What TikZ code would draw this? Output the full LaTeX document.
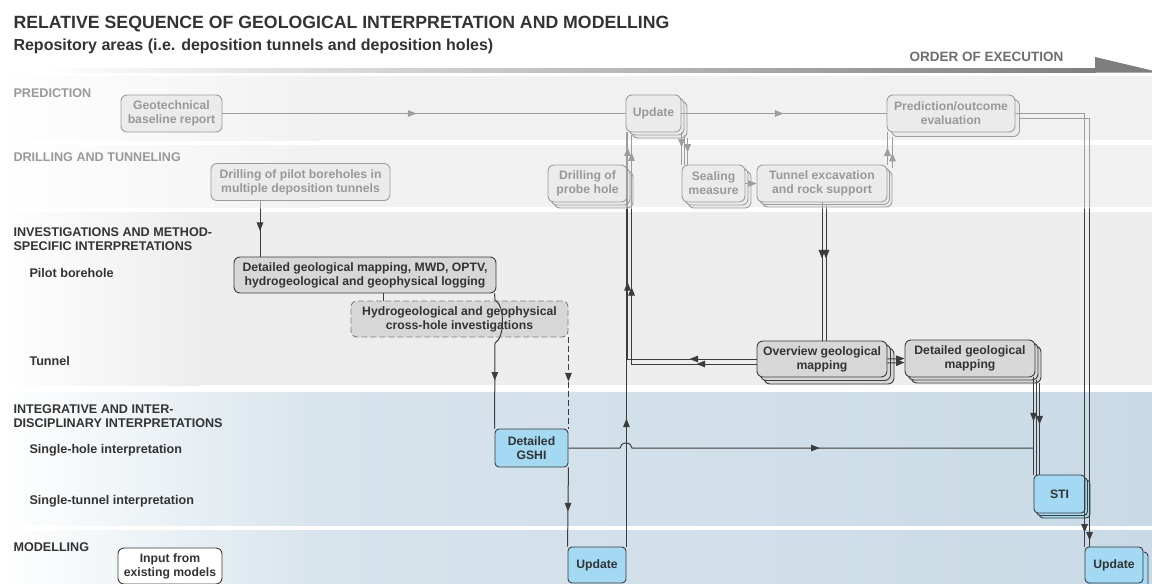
\documentclass[tikz,border=0pt]{standalone}
\usepackage{fontspec}
\setmainfont{Liberation Sans}
\usepackage{tikz}
\usetikzlibrary{arrows.meta,shadows,decorations.markings}

\definecolor{txtdark}{HTML}{333333}
\definecolor{linedark}{HTML}{3C3C3C}
\definecolor{boxgray}{HTML}{D7D7D7}
\definecolor{boxblue}{HTML}{A3D9F3}
\definecolor{bandtop}{HTML}{E4E4E4}
\definecolor{bandmid}{HTML}{EDEDED}
\definecolor{bandlow}{HTML}{D8E4EC}
\definecolor{bandlowend}{HTML}{C9DAE6}
\definecolor{barend}{HTML}{7E7E7E}
\definecolor{ordergray}{HTML}{6E6E6E}

\begin{document}
\begin{tikzpicture}[x=1pt,y=-1pt,
  procbox/.style={draw=linedark, fill=boxgray, text=txtdark, rounded corners=6pt,
    line width=0.9pt, align=center, inner sep=1pt,
    font=\fontsize{12.2}{14}\selectfont\bfseries},
  bluebox/.style={procbox, fill=boxblue, rounded corners=4pt},
  crossbox/.style={procbox, draw=gray, dash pattern=on 6pt off 3pt},
  stack/.style={double copy shadow={shadow xshift=#1, shadow yshift=-#1}},
  onecopy/.style={copy shadow={shadow xshift=#1, shadow yshift=-#1}},
  lanehead/.style={anchor=base west, text=txtdark, align=left,
    font=\fontsize{12.6}{14}\selectfont\bfseries},
  link/.style={draw=linedark, line width=1pt},
  arrowat/.style={postaction={decorate, decoration={markings,
    mark=at position #1 with {\arrow{Triangle[length=8.5pt,width=6.5pt]}}}}},
  tip/.style={-{Triangle[length=8.5pt,width=6.5pt]}}
]
\useasboundingbox (0,0) rectangle (1152,584);
\fill[white] (0,0) rectangle (1152,584);

\shade[left color=white, right color=bandtop] (0,76) rectangle (320,140);
\fill[bandtop] (320,76) rectangle (1152,140);
\shade[left color=white, right color=bandtop] (0,145) rectangle (320,207);
\fill[bandtop] (320,145) rectangle (1152,207);
\shade[left color=white, right color=bandmid] (0,212) rectangle (200,385);
\fill[bandmid] (200,212) rectangle (1152,385);
\shade[left color=white, right color=bandlow] (0,392) rectangle (320,525);
\shade[left color=bandlow, right color=bandlowend] (320,392) rectangle (1152,525);
\shade[left color=white, right color=bandlow] (0,530) rectangle (320,584);
\shade[left color=bandlow, right color=bandlowend] (320,530) rectangle (1152,584);

\shade[left color=white, right color=barend] (40,68) rectangle (1096,72.5);
\fill[barend] (1095,57) -- (1152,70.5) -- (1152,72.5) -- (1095,72.5) -- cycle;

\node[anchor=base west, text=txtdark, font=\fontsize{17.7}{20}\selectfont\bfseries] (title) at (10,28.5) {RELATIVE SEQUENCE OF GEOLOGICAL INTERPRETATION AND MODELLING};
\node[anchor=base west, text=txtdark, font=\fontsize{16}{19}\selectfont\bfseries] (subtitle) at (10,50.5) {Repository areas (i.e. deposition tunnels and deposition holes)};
\node[anchor=base, text=ordergray, font=\fontsize{13.5}{16}\selectfont\bfseries] (order) at (986.5,61.7) {ORDER OF EXECUTION};

\node[lanehead] (prediction) at (10,97.5) {PREDICTION};
\node[lanehead] (drilling) at (10,161.5) {DRILLING AND TUNNELING};
\node[lanehead] (investig) at (10,250.5) {INVESTIGATIONS AND METHOD-\\SPECIFIC INTERPRETATIONS};
\node[lanehead] (pilot) at (26,277.5) {Pilot borehole};
\node[lanehead] (tunnel) at (26,365.5) {Tunnel};
\node[lanehead] (integr) at (10,427) {INTEGRATIVE AND INTER-\\DISCIPLINARY INTERPRETATIONS};
\node[lanehead] (singlehole) at (26,453.5) {Single-hole interpretation};
\node[lanehead] (singletunnel) at (26,504.5) {Single-tunnel interpretation};
\node[lanehead] (modelling) at (10,551) {MODELLING};

\node[procbox, minimum width=101pt, minimum height=37pt] (gbr) at (171.5,113.5) {Geotechnical\\baseline report};
\node[procbox, stack=3pt, minimum width=55pt, minimum height=37pt] (updp) at (653.5,113.5) {Update};
\node[procbox, onecopy=4.5pt, minimum width=128pt, minimum height=37pt] (poe) at (951,113.5) {Prediction/outcome\\evaluation};
\node[procbox, minimum width=179pt, minimum height=37pt] (dpb) at (300.5,182) {Drilling of pilot boreholes in\\multiple deposition tunnels};
\node[procbox, stack=3pt, minimum width=79pt, minimum height=37pt] (dph) at (587.5,183.5) {Drilling of\\probe hole};
\node[procbox, stack=3pt, minimum width=63pt, minimum height=37pt] (sea) at (713.5,183.5) {Sealing\\measure};
\node[procbox, stack=2.5pt, minimum width=130pt, minimum height=37pt] (tex) at (822,183.5) {Tunnel excavation\\and rock support};
\node[procbox, minimum width=262pt, minimum height=36pt] (dgl) at (365,275) {Detailed geological mapping, MWD, OPTV,\\hydrogeological and geophysical logging};
\node[crossbox, minimum width=217pt, minimum height=36pt] (hyd) at (459.5,319) {Hydrogeological and geophysical\\cross-hole investigations};
\node[procbox, stack=3.5pt, minimum width=130pt, minimum height=36pt] (ovm) at (822,359) {Overview geological\\mapping};
\node[procbox, stack=3pt, minimum width=130pt, minimum height=37pt] (dgm) at (970,358.5) {Detailed geological\\mapping};
\node[bluebox, minimum width=73pt, minimum height=38pt] (gshi) at (531.5,448) {Detailed\\GSHI};
\node[bluebox, stack=2.5pt, minimum width=51pt, minimum height=38pt] (sti) at (1059.5,494) {STI};
\node[bluebox, minimum width=58pt, minimum height=36pt] (updm) at (597,565) {Update};
\node[bluebox, onecopy=5pt, minimum width=58pt, minimum height=36pt] (updr) at (1114,565) {Update};
\node[procbox, fill=white, minimum width=104pt, minimum height=36pt] (inp) at (170,566) {Input from\\existing models};

\draw[link, arrowat=194pt] (gbr.east) -- (updp.west);
\draw[link, arrowat=102pt] (updp.east) -- (poe.west);
\draw[link, arrowat=-14pt] (poe.east) -| (updr.north west);
\draw[link, arrowat=-6pt] ([xshift=4.5pt,yshift=-5pt]poe.east) -| ([xshift=5pt]updr.north west);
\draw[link, arrowat=-17pt] (sea.north west |- updp.south) -- (sea.north west);
\draw[link] ([xshift=3pt,yshift=-3pt]sea.north west |- updp.south) -- ([xshift=3pt]sea.north west);
\draw[link, arrowat=-12pt] ([xshift=6pt,yshift=-6pt]sea.north west |- updp.south) -- ([xshift=6pt]sea.north west);
\draw[link, tip] (sea.east) -- (tex.west);
\draw[link, arrowat=-15pt] (tex.north east) -- (tex.north east |- poe.south);
\draw[link, arrowat=-16pt] ([xshift=5pt,yshift=-3pt]tex.north east) -- ([xshift=5pt,yshift=-4.5pt]tex.north east |- poe.south);
\draw[link, arrowat=56pt] (tex.south) -- (ovm.north);
\draw[link, arrowat=53pt] ([xshift=4pt,yshift=-3pt]tex.south) -- ([xshift=4pt]ovm.north);
\draw[link, arrowat=67pt, arrowat=206pt, arrowat=-15pt] (ovm.west) -| ([xshift=2pt]updp.south west);
\draw[link, arrowat=60pt, arrowat=202pt, arrowat=-17pt] ([yshift=-5pt]ovm.west) -| ([xshift=6pt,yshift=-3pt]updp.south west);
\draw[link, tip] (ovm.east) -- (dgm.west);
\draw[link, tip] ([yshift=-4pt]ovm.east) -- ([yshift=-4pt]dgm.west);
\draw[link, arrowat=44pt] (sti.north west |- dgm.south) -- (sti.north west);
\draw[link] ([xshift=3pt,yshift=-3pt]sti.north west |- dgm.south) -- ([xshift=3pt]sti.north west);
\draw[link, arrowat=41pt] ([xshift=6pt,yshift=-6pt]sti.north west |- dgm.south) -- ([xshift=6pt]sti.north west);
\draw[link, arrowat=30pt] ([xshift=-105pt]dgl.north |- dpb.south) -- ([xshift=-105pt]dgl.north);
\draw[link] ([xshift=18pt]dgl.south) -- ([xshift=18pt]dgl.south |- hyd.north);
\draw[link, arrowat=-48pt] (gshi.north west |- dgl.south) -- (495,300)
  .. controls (505,305) and (505,338) .. (495,343) -- (gshi.north west);
\draw[link, dash pattern=on 6pt off 3pt, arrowat=44pt] (hyd.south east) -- (gshi.north east);
\draw[link, arrowat=44pt] (gshi.south east) -- (updm.north west);
\draw[link, arrowat=128pt] (updm.north east) -- (updm.north east |- updp.south);
\draw[link, arrowat=-214pt] (gshi.east) -- (620,448)
  arc[start angle=180, end angle=360, x radius=6, y radius=5] -- (gshi.east -| sti.west);

\fill[white, opacity=0.5] (0,76) rectangle (1152,209);
\end{tikzpicture}
\end{document}
